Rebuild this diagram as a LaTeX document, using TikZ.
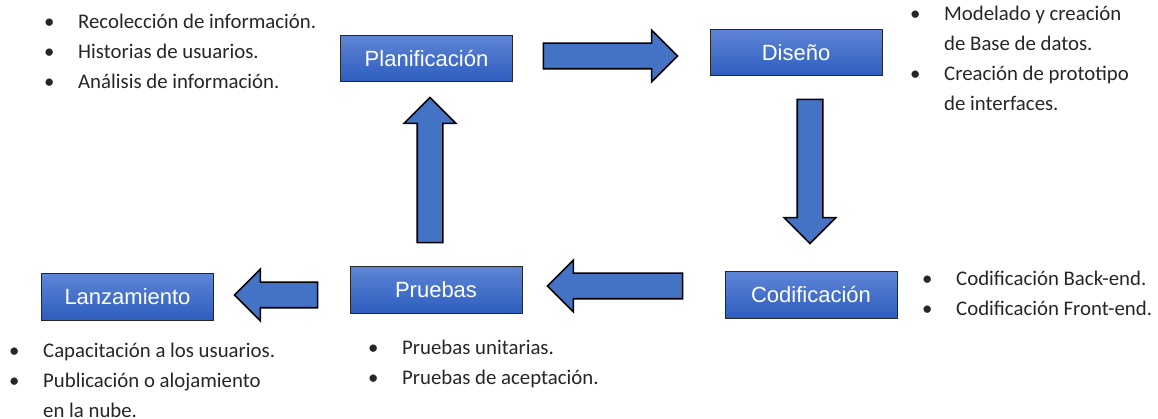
\documentclass[tikz,border=0pt]{standalone}
\usepackage{fontspec}
\setmainfont{Carlito}
\newfontfamily\boxfont{Liberation Sans}
\usetikzlibrary{shapes.arrows,positioning}

\definecolor{arrowblue}{HTML}{4472C4}
\definecolor{phasetop}{HTML}{5E85D6}
\definecolor{phasebot}{HTML}{2D5DBE}

\newcommand{\bul}{\makebox[34pt][l]{\textbullet}}
\newcommand{\ind}{\hspace*{34pt}}

\begin{document}
\begin{tikzpicture}[x=1pt,y=-1pt]
\tikzstyle{every node}+=[inner sep=0pt]
\tikzstyle{phase}=[rectangle, draw=black!85, line width=1pt, top color=phasetop, bottom color=phasebot,
  text=white, font=\boxfont\fontsize{22}{26}\selectfont, minimum width=172pt, minimum height=46pt]
\tikzstyle{blockarrow}=[single arrow, draw=black, fill=arrowblue, line width=1.6pt, inner sep=12pt,
  minimum width=50pt, single arrow head extend=13pt, single arrow tip angle=90]
\tikzstyle{items}=[anchor=base west, align=left, font=\fontsize{20.8}{30}\selectfont, text=black!85]
\useasboundingbox (0,0) rectangle (1158,419);
% fases
\node [phase] (plan) at (426.5,58.5) {Planificación};
\node [phase] (dis) at (796,53) {Diseño};
\node [phase] (cod) at (811,295) {Codificación};
\node [phase] (pru) at (436,290) {Pruebas};
\node [phase] (lan) at (127.5,297) {Lanzamiento};
% flechas
\node [blockarrow, minimum height=134pt] (a1) at (604,56) {};
\node [blockarrow, minimum height=144pt, rotate=-90] (a2) at (810,165) {};
\node [blockarrow, minimum height=135pt, rotate=180] (a3) at (621.5,286) {};
\node [blockarrow, minimum height=145pt, rotate=90] (a4) at (430,176.5) {};
\node [blockarrow, minimum height=83pt, rotate=180] (a5) at (282.5,295) {};
% actividades (base = ultima linea)
\node [items] (plantxt) at (44,89) {\bul Recolección de información.\\ \bul Historias de usuarios.\\ \bul Análisis de información.};
\node [items] (distxt) at (910,111) {\bul Modelado y creación\\ \ind de Base de datos.\\ \bul Creación de prototipo\\ \ind de interfaces.};
\node [items] (codtxt) at (922,316) {\bul Codificación Back-end.\\ \bul Codificación Front-end.};
\node [items] (prutxt) at (368,384) {\bul Pruebas unitarias.\\ \bul Pruebas de aceptación.};
\node [items] (lantxt) at (9,417) {\bul Capacitación a los usuarios.\\ \bul Publicación o alojamiento\\ \ind en la nube.};
\end{tikzpicture}
\end{document}
